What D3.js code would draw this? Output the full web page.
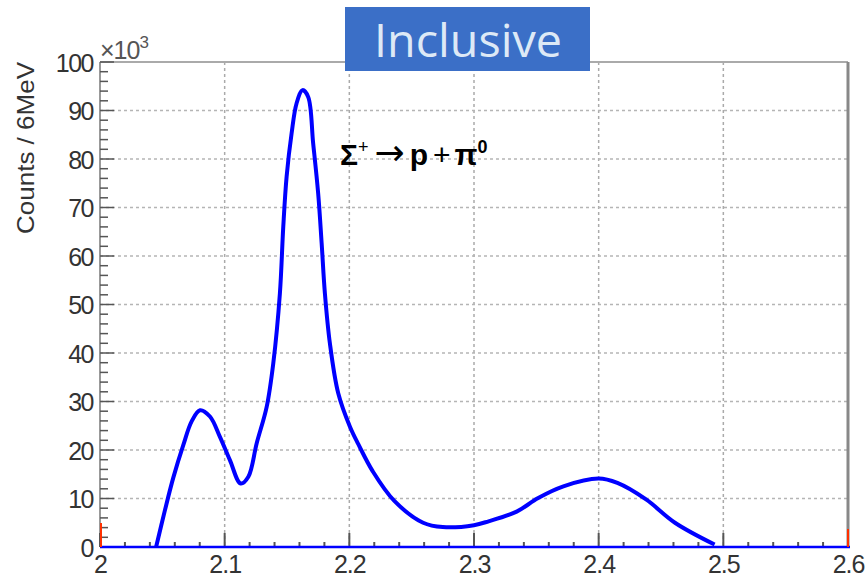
<!DOCTYPE html>
<html><head><meta charset="utf-8">
<script src="https://cdn.jsdelivr.net/npm/d3@7/dist/d3.min.js"></script>
<style>body{margin:0;background:#fff;}svg{display:block;}</style>
</head><body>
<svg id="c" width="868" height="586"></svg>
<script>
// Data (x = invariant mass in GeV, counts in units of 10^3)
const massX = [2.045, 2.052, 2.0588, 2.0668, 2.0735, 2.0802, 2.0882, 2.0962, 2.1042, 2.1128, 2.119, 2.1257, 2.1337, 2.139, 2.1443, 2.147, 2.1497, 2.1537, 2.1577, 2.1625, 2.167, 2.171, 2.175, 2.1778, 2.1804, 2.1844, 2.1911, 2.2005, 2.2072, 2.2188, 2.2361, 2.2592, 2.275, 2.3, 2.3117, 2.3342, 2.3515, 2.3717, 2.4, 2.415, 2.438, 2.4612, 2.493];
const counts = [0, 7.5, 14.3, 21, 25.9, 28.2, 26.9, 22.7, 17.9, 13.1, 14.5, 21.4, 28.9, 37.9, 52.3, 66, 76.4, 85.3, 91.5, 94.2, 92.8, 83.2, 72.9, 62.6, 52.3, 42, 31.7, 24.8, 21.2, 15.6, 9.5, 5.0, 4.1, 4.5, 5.3, 7.3, 10.1, 12.5, 14.1, 13.2, 9.8, 5.0, 0.5];
const xTicks = [2, 2.1, 2.2, 2.3, 2.4, 2.5, 2.6];
const xTickLabels = ["2", "2.1", "2.2", "2.3", "2.4", "2.5", "2.6"];
const yTicks = [0, 10, 20, 30, 40, 50, 60, 70, 80, 90, 100];
const titleText = "Inclusive";
const yTitle = "Counts / 6MeV";

const svg = d3.select("#c");
const x = d3.scaleLinear().domain([2, 2.6]).range([100, 848]);
const y = d3.scaleLinear().domain([0, 100]).range([547, 62]);

// grid
const g = svg.append("g");
g.selectAll(".gx").data(xTicks.slice(1, -1)).enter().append("line")
  .attr("x1", d => x(d)).attr("x2", d => x(d)).attr("y1", y(100)).attr("y2", y(0))
  .attr("stroke", "#aaa").attr("stroke-width", 1.5).attr("stroke-dasharray", "3,3");
g.selectAll(".gy").data(yTicks.slice(1, -1)).enter().append("line")
  .attr("x1", x(2)).attr("x2", x(2.6)).attr("y1", d => y(d)).attr("y2", d => y(d))
  .attr("stroke", "#b5b5b5").attr("stroke-width", 1.5).attr("stroke-dasharray", "3,3");

// frame
svg.append("line").attr("x1", x(2)).attr("x2", x(2.6)).attr("y1", y(100)).attr("y2", y(100))
  .attr("stroke", "#aaa").attr("stroke-width", 2);
svg.append("line").attr("x1", x(2.6)).attr("x2", x(2.6)).attr("y1", y(100)).attr("y2", y(0))
  .attr("stroke", "#888").attr("stroke-width", 3);
svg.append("line").attr("x1", x(2)).attr("x2", x(2)).attr("y1", y(100)).attr("y2", y(0))
  .attr("stroke", "#999").attr("stroke-width", 2);

// y ticks (inward)
const yMinor = d3.range(0, 100.01, 2);
svg.selectAll(".ym").data(yMinor).enter().append("line")
  .attr("x1", x(2)).attr("x2", d => x(2) + (d % 10 === 0 ? 14 : 8))
  .attr("y1", d => y(d)).attr("y2", d => y(d))
  .attr("stroke", "#555").attr("stroke-width", 1.5);
// x ticks (inward)
const xMinor = d3.range(0, 31).map(i => 2 + i * 0.02);
svg.selectAll(".xm").data(xMinor).enter().append("line")
  .attr("x1", d => x(d)).attr("x2", d => x(d))
  .attr("y1", y(0)).attr("y2", (d, i) => y(0) - (i % 5 === 0 ? 14 : 5))
  .attr("stroke", "#555").attr("stroke-width", 2);

// axes labels via d3 axes (lines hidden)
const yAxis = svg.append("g").attr("transform", `translate(${x(2)},0)`)
  .call(d3.axisLeft(y).tickValues(yTicks).tickSize(0).tickPadding(7).tickFormat(d3.format("d")));
yAxis.select(".domain").remove();
yAxis.selectAll("text").attr("font-family", "Liberation Sans, Arial, sans-serif")
  .attr("font-size", 25).attr("fill", "#333").attr("letter-spacing", -1.5).attr("dy", "0.36em");

const xAxis = svg.append("g").attr("transform", `translate(0,${y(0)})`)
  .call(d3.axisBottom(x).tickValues(xTicks).tickSize(0).tickPadding(8).tickFormat((d, i) => xTickLabels[i]));
xAxis.select(".domain").remove();
xAxis.selectAll("text").attr("font-family", "Liberation Sans, Arial, sans-serif")
  .attr("font-size", 25).attr("fill", "#333").attr("letter-spacing", -1);

// exponent
const ex = svg.append("text").attr("x", 100).attr("y", 59)
  .attr("font-family", "Liberation Sans, Arial, sans-serif").attr("font-size", 25).attr("fill", "#555").attr("letter-spacing", -1);
ex.append("tspan").text("×10");
ex.append("tspan").attr("font-size", 17).attr("dy", -11).text("3");

// y title
svg.append("text").attr("transform", "translate(34,148) rotate(-90)")
  .attr("text-anchor", "middle").attr("font-family", "Liberation Sans, Arial, sans-serif")
  .attr("font-size", 24).attr("fill", "#333")
  .attr("textLength", 172).attr("lengthAdjust", "spacingAndGlyphs").text(yTitle);

// zero line + red end markers
svg.append("line").attr("x1", x(2)).attr("x2", x(2.6) + 2).attr("y1", y(0)).attr("y2", y(0))
  .attr("stroke", "#0000ff").attr("stroke-width", 2.5);
svg.append("line").attr("x1", x(2) + 1).attr("x2", x(2) + 1).attr("y1", y(0)).attr("y2", y(0) - 24)
  .attr("stroke", "#ff3000").attr("stroke-width", 2);
svg.append("line").attr("x1", x(2.6)).attr("x2", x(2.6)).attr("y1", y(0)).attr("y2", y(0) - 18)
  .attr("stroke", "#ff3000").attr("stroke-width", 2);

// curve
const pts = massX.map((m, i) => [m, counts[i]]);
svg.append("path").datum(pts)
  .attr("d", d3.line().x(d => x(d[0])).y(d => y(d[1])).curve(d3.curveCatmullRom.alpha(0.5)))
  .attr("fill", "none").attr("stroke", "#0000ff").attr("stroke-width", 4).attr("stroke-linejoin", "round");

// title box
svg.append("rect").attr("x", 345).attr("y", 7).attr("width", 245).attr("height", 64).attr("fill", "#3b6fc7");
svg.append("text").attr("x", 468).attr("y", 57).attr("text-anchor", "middle")
  .attr("font-family", "Open Sans, sans-serif").attr("font-size", 46).attr("fill", "#dde9f6")
  .attr("textLength", 188).attr("lengthAdjust", "spacingAndGlyphs").text(titleText);

// annotation
const an = svg.append("text").attr("x", 340).attr("y", 165)
  .attr("font-family", "Liberation Sans, Arial, sans-serif").attr("font-size", 30).attr("font-weight", "bold").attr("fill", "#000");
an.append("tspan").text("Σ");
an.append("tspan").attr("font-size", 18).attr("font-weight", "normal").attr("dy", -12).text("+");
an.append("tspan").attr("dy", 12).attr("dx", 6).attr("font-family", "DejaVu Sans, sans-serif").attr("font-size", 36).attr("font-weight", "normal").text("→");
an.append("tspan").attr("dx", 5).text("p");
an.append("tspan").attr("dx", 5).attr("font-weight", "normal").attr("font-size", 30).text("+");
an.append("tspan").attr("dx", 4).text("π");
an.append("tspan").attr("font-size", 18).attr("dy", -12).text("0");
</script>
</body></html>
